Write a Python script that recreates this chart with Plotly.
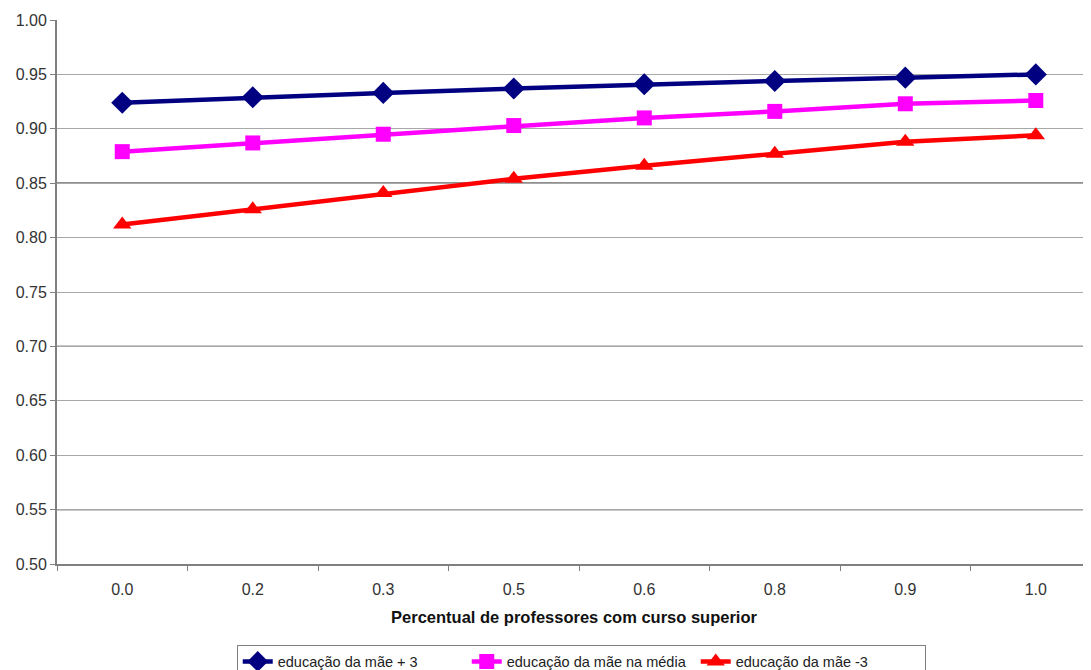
import plotly.graph_objects as go

categories = ["0.0", "0.2", "0.3", "0.5", "0.6", "0.8", "0.9", "1.0"]
mae_mais3 = [0.924, 0.929, 0.933, 0.937, 0.941, 0.944, 0.947, 0.950]
mae_media = [0.879, 0.887, 0.895, 0.903, 0.910, 0.916, 0.923, 0.926]
mae_menos3 = [0.812, 0.826, 0.841, 0.854, 0.866, 0.877, 0.888, 0.894]
names = ["educação da mãe + 3", "educação da mãe na média", "educação da mãe -3"]
y_ticks = [0.50, 0.55, 0.60, 0.65, 0.70, 0.75, 0.80, 0.85, 0.90, 0.95, 1.00]
dark_grid = [0.55, 0.70, 0.85]

fig = go.Figure()
series = [
    (mae_mais3, names[0], "#000080", "diamond", 17),
    (mae_media, names[1], "#FF00FF", "square", 15),
    (mae_menos3, names[2], "#FF0000", "triangle-up", 16),
]
for vals, nm, col, sym, sz in series:
    fig.add_trace(go.Scatter(
        x=categories, y=vals, name=nm, mode="lines+markers",
        line=dict(color=col, width=4.5),
        marker=dict(symbol=sym, size=sz, color=col),
    ))

for v in dark_grid:
    fig.add_shape(type="line", xref="paper", yref="y", x0=0, x1=1, y0=v, y1=v,
                  line=dict(color="#202020", width=1.2), layer="between")

fig.update_layout(
    width=1083, height=700,
    margin=dict(l=49, r=0, t=12, b=144),
    paper_bgcolor="white", plot_bgcolor="white",
    font=dict(family="Liberation Sans, Arial, sans-serif", size=16, color="#333"),
    showlegend=True,
    legend=dict(orientation="h", x=0.507, xanchor="center", y=-0.148, yanchor="top",
                bordercolor="#808080", borderwidth=1, font=dict(size=14.5, color="#222"),
                entrywidth=184, entrywidthmode="pixels", tracegroupgap=0),
    xaxis=dict(
        type="category", range=[-0.5, 7.423],
        tickson="boundaries", ticks="outside", ticklen=5, tickcolor="#808080",
        ticklabelstandoff=10,
        showline=True, linecolor="#808080", linewidth=2,
        showgrid=False, zeroline=False, tickfont=dict(size=16, color="#333"),
        title=dict(text="<b>Percentual de professores com curso superior</b>",
                   font=dict(size=16.5, color="#111"), standoff=14),
    ),
    yaxis=dict(
        range=[0.5, 1.0], tickvals=y_ticks, tickformat=".2f",
        ticks="outside", ticklen=5, tickcolor="#808080",
        showline=True, linecolor="#808080", linewidth=2,
        tickfont=dict(size=16, color="#333"),
        showgrid=True, gridcolor="#a8a8a8", gridwidth=1, zeroline=False,
    ),
)

fig.write_html("out.html",
               post_script="document.body.style.overflow='hidden';document.documentElement.style.overflow='hidden';")
